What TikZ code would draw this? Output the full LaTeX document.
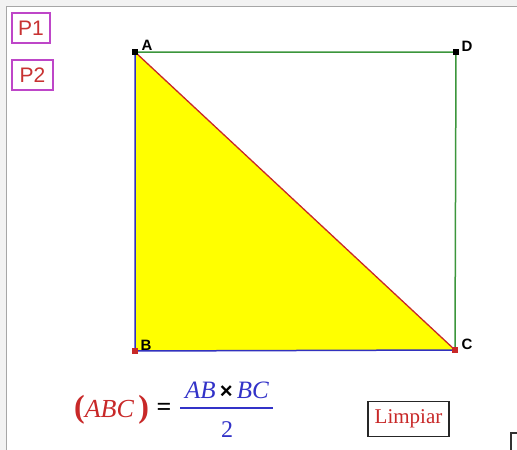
\documentclass[tikz,border=0pt]{standalone}
\usepackage{fontspec}
\setmainfont{Liberation Serif}
\setsansfont{Liberation Sans}
\definecolor{pmag}{RGB}{190,70,200}
\definecolor{ptxt}{RGB}{200,50,50}
\definecolor{lgreen}{RGB}{60,150,60}
\definecolor{lblue}{RGB}{50,50,190}
\definecolor{lred}{RGB}{200,40,40}
\definecolor{fblue}{RGB}{50,50,200}
\definecolor{fyellow}{RGB}{255,255,0}
\begin{document}
\begin{tikzpicture}[x=1pt,y=-1pt,
  pt/.style={minimum size=6.5pt,inner sep=0pt,fill=#1,draw=none},
  lbl/.style={font=\sffamily\bfseries\fontsize{15}{15}\selectfont,inner sep=0pt},
  pbtn/.style={draw=pmag,line width=1.8pt,font=\sffamily\fontsize{21}{21}\selectfont,text=ptxt,inner sep=0pt,minimum height=30pt,anchor=north west},
  mathtxt/.style={font=\itshape\fontsize{25}{25}\selectfont,inner sep=0pt}]
\useasboundingbox (0,0) rectangle (517,450);
\fill[gray!10] (0,0) rectangle (517,450);
\fill[white] (7,7) rectangle (517,450);
\draw[gray!70,line width=1.5pt] (6.5,450) -- (6.5,6.5) -- (517,6.5);
% points
\coordinate (A) at (135,52);
\coordinate (B) at (135,351);
\coordinate (C) at (455,350);
\coordinate (D) at (456,52);
\fill[fyellow] (A) -- (B) -- (C) -- cycle;
\draw[lgreen,line width=1.5pt] (A) -- (D) -- (C);
\draw[lblue,line width=1.5pt] (A) -- (B) -- (C);
\draw[lred,line width=1.3pt] (A) -- (C);
\node[pt=black] (pA) at (A) {};
\node[pt=black] (pD) at (D) {};
\node[pt=lred] (pB) at (B) {};
\node[pt=lred] (pC) at (C) {};
\node[lbl] (lA) at (147,45) {A};
\node[lbl] (lD) at (467,46) {D};
\node[lbl] (lB) at (146,345) {B};
\node[lbl] (lC) at (467,344) {C};
% buttons
\node[pbtn,minimum width=38pt] (P1) at (11,12) {P1};
\node[pbtn,minimum width=41pt] (P2) at (11,59) {P2};
\node[draw=black!85,line width=1.5pt,minimum width=81pt,minimum height=35pt,inner sep=0pt,text=lred,font=\fontsize{21}{21}\selectfont] (L) at (408.5,419) {Limpiar};
% formula
\node[inner sep=0pt,text=lred,anchor=west] (abc) at (74,410) {{\bfseries\fontsize{32}{32}\selectfont(}{\itshape\fontsize{26}{26}\selectfont ABC\,}{\bfseries\fontsize{32}{32}\selectfont)}};
\node[inner sep=0pt,font=\bfseries\fontsize{26}{26}\selectfont] (eq) at (164,409) {=};
\node[mathtxt,text=fblue] (num) at (227,390) {AB\,{\upshape\color{black}\sffamily\bfseries\fontsize{22}{22}\selectfont ×}\,BC};
\node[mathtxt,font=\upshape\fontsize{24}{24}\selectfont,text=fblue] (den) at (227,430) {2};
\draw[fblue,line width=1.4pt] (180,408) -- (273,408);
% partial box bottom right
\draw[black!80,line width=1.2pt] (511,460) -- (511,433) -- (530,433);
\end{tikzpicture}
\end{document}
